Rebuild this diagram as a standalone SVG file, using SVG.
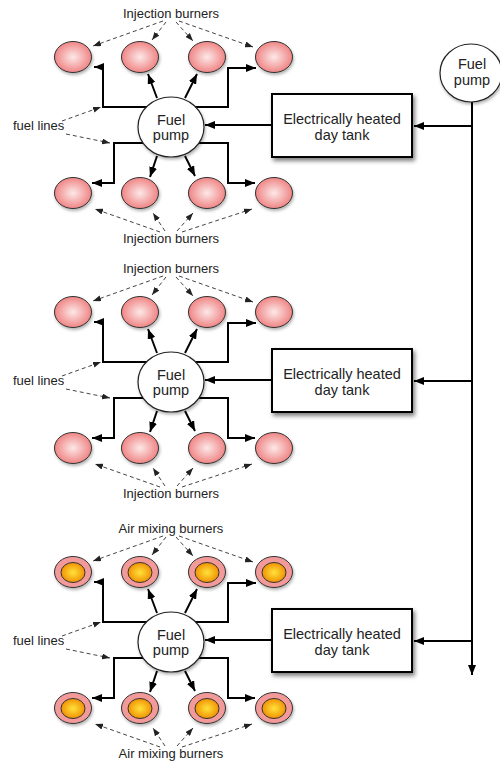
<svg xmlns="http://www.w3.org/2000/svg" width="500" height="762" viewBox="0 0 500 762">
<defs>
<style>
.lbl{font-family:"Liberation Sans",Arial,sans-serif;font-size:13px;fill:#222}
.big{font-family:"Liberation Sans",Arial,sans-serif;font-size:14.5px;fill:#222;text-anchor:middle}
.mid{text-anchor:middle}
.fl{fill:none;stroke:#000;stroke-width:2;marker-end:url(#ah)}
.dl{fill:none;stroke:#444;stroke-width:1;stroke-dasharray:4 3;marker-end:url(#dh)}
.burn{fill:url(#pink);stroke:#333;stroke-width:1;filter:url(#sh2)}
.air{fill:#f29a9a;stroke:#333;stroke-width:1;filter:url(#sh2)}
.core{fill:url(#orange);stroke:#333;stroke-width:1}
.pump{fill:#fff;stroke:#222;stroke-width:1.2;filter:url(#sh2)}
.tank{fill:#fff;stroke:#000;stroke-width:2;filter:url(#sh1)}
</style>
<radialGradient id="pink" cx="50%" cy="50%" r="55%">
<stop offset="0" stop-color="#fde8e8"/>
<stop offset="1" stop-color="#ee7b7b"/>
</radialGradient>
<radialGradient id="orange" cx="50%" cy="50%" r="55%">
<stop offset="0" stop-color="#ffe23a"/>
<stop offset="1" stop-color="#f08a00"/>
</radialGradient>
<filter id="sh1" x="-20%" y="-20%" width="140%" height="150%">
<feDropShadow dx="2" dy="3" stdDeviation="2" flood-color="#000" flood-opacity="0.5"/>
</filter>
<filter id="sh2" x="-20%" y="-20%" width="140%" height="150%">
<feDropShadow dx="1" dy="2" stdDeviation="1.5" flood-color="#000" flood-opacity="0.3"/>
</filter>
<marker id="ah" viewBox="0 0 10 8" refX="10" refY="4" markerWidth="10" markerHeight="8" markerUnits="userSpaceOnUse" orient="auto">
<path d="M0,0 L10,4 L0,8 z" fill="#000"/>
</marker>
<marker id="dh" viewBox="0 0 8 6" refX="8" refY="3" markerWidth="8" markerHeight="6" markerUnits="userSpaceOnUse" orient="auto">
<path d="M0,0 L8,3 L0,6 z" fill="#222"/>
</marker>
</defs>
<rect width="500" height="762" fill="#fff"/>

<g id="connectors">
<path class="fl" d="M472,102 V675"/>
<g id="conn-s1">
<path class="fl" d="M148,107 H103 V67 H94"/>
<path class="fl" d="M194,107 H228 V68 H256"/>
<path class="fl" d="M157,98 L148,74"/>
<path class="fl" d="M185,98 L197,74"/>
<path class="fl" d="M148,143 H114 V183 H92"/>
<path class="fl" d="M194,143 H228 V183 H255"/>
<path class="fl" d="M157,156 L150,177"/>
<path class="fl" d="M185,156 L195,176"/>
<path class="fl" d="M272,125 H205"/>
<path class="fl" d="M472,126 H414"/>
<path class="dl" d="M163,21 L93,46"/>
<path class="dl" d="M166,22 L152,40"/>
<path class="dl" d="M176,22 L193,41"/>
<path class="dl" d="M179,21 L253,47"/>
<path class="dl" d="M160,232 L95,209"/>
<path class="dl" d="M165,231 L153,213"/>
<path class="dl" d="M177,231 L193,213"/>
<path class="dl" d="M182,232 L252,209"/>
<path class="dl" d="M62,121 L101,107"/>
<path class="dl" d="M66,134 L110,143"/>
</g>
<g id="conn-s2" transform="translate(0,255)">
<path class="fl" d="M148,107 H103 V67 H94"/>
<path class="fl" d="M194,107 H228 V68 H256"/>
<path class="fl" d="M157,98 L148,74"/>
<path class="fl" d="M185,98 L197,74"/>
<path class="fl" d="M148,143 H114 V183 H92"/>
<path class="fl" d="M194,143 H228 V183 H255"/>
<path class="fl" d="M157,156 L150,177"/>
<path class="fl" d="M185,156 L195,176"/>
<path class="fl" d="M272,125 H205"/>
<path class="fl" d="M472,126 H414"/>
<path class="dl" d="M163,21 L93,46"/>
<path class="dl" d="M166,22 L152,40"/>
<path class="dl" d="M176,22 L193,41"/>
<path class="dl" d="M179,21 L253,47"/>
<path class="dl" d="M160,232 L95,209"/>
<path class="dl" d="M165,231 L153,213"/>
<path class="dl" d="M177,231 L193,213"/>
<path class="dl" d="M182,232 L252,209"/>
<path class="dl" d="M62,121 L101,107"/>
<path class="dl" d="M66,134 L110,143"/>
</g>
<g id="conn-s3" transform="translate(0,515)">
<path class="fl" d="M148,107 H103 V67 H94"/>
<path class="fl" d="M194,107 H228 V68 H256"/>
<path class="fl" d="M157,98 L148,74"/>
<path class="fl" d="M185,98 L197,74"/>
<path class="fl" d="M148,143 H114 V183 H92"/>
<path class="fl" d="M194,143 H228 V183 H255"/>
<path class="fl" d="M157,156 L150,177"/>
<path class="fl" d="M185,156 L195,176"/>
<path class="fl" d="M272,125 H205"/>
<path class="fl" d="M472,126 H414"/>
<path class="dl" d="M163,21 L93,46"/>
<path class="dl" d="M166,22 L152,40"/>
<path class="dl" d="M176,22 L193,41"/>
<path class="dl" d="M179,21 L253,47"/>
<path class="dl" d="M160,232 L95,209"/>
<path class="dl" d="M165,231 L153,213"/>
<path class="dl" d="M177,231 L193,213"/>
<path class="dl" d="M182,232 L252,209"/>
<path class="dl" d="M62,121 L101,107"/>
<path class="dl" d="M66,134 L110,143"/>
</g>
</g>

<g id="main-pump">
<ellipse class="pump" cx="471" cy="73" rx="31" ry="29"/>
<text class="big" x="472" y="69">Fuel</text>
<text class="big" x="472" y="85">pump</text>
</g>

<g id="section1">
<g id="s1-b1"><ellipse class="burn" cx="73" cy="57" rx="18.5" ry="15.5"/></g>
<g id="s1-b2"><ellipse class="burn" cx="140" cy="57" rx="18.5" ry="15.5"/></g>
<g id="s1-b3"><ellipse class="burn" cx="207" cy="57" rx="18.5" ry="15.5"/></g>
<g id="s1-b4"><ellipse class="burn" cx="274" cy="57" rx="18.5" ry="15.5"/></g>
<g id="s1-b5"><ellipse class="burn" cx="73" cy="193" rx="18.5" ry="15.5"/></g>
<g id="s1-b6"><ellipse class="burn" cx="140" cy="193" rx="18.5" ry="15.5"/></g>
<g id="s1-b7"><ellipse class="burn" cx="207" cy="193" rx="18.5" ry="15.5"/></g>
<g id="s1-b8"><ellipse class="burn" cx="274" cy="193" rx="18.5" ry="15.5"/></g>
<g id="s1-pump"><ellipse class="pump" cx="171" cy="127" rx="33" ry="30"/>
<text class="big" x="171" y="124.5">Fuel</text><text class="big" x="171" y="139.5">pump</text></g>
<g id="s1-tank"><rect class="tank" x="272" y="94" width="140" height="63"/>
<text class="big" x="342" y="124">Electrically heated</text><text class="big" x="342" y="140">day tank</text></g>
<g id="s1-labels">
<text class="lbl mid" x="171" y="18">Injection burners</text>
<text class="lbl mid" x="171" y="243">Injection burners</text>
<text class="lbl" x="13" y="130">fuel lines</text>
</g>
</g>

<g id="section2" transform="translate(0,255)">
<g id="s2-b1"><ellipse class="burn" cx="73" cy="57" rx="18.5" ry="15.5"/></g>
<g id="s2-b2"><ellipse class="burn" cx="140" cy="57" rx="18.5" ry="15.5"/></g>
<g id="s2-b3"><ellipse class="burn" cx="207" cy="57" rx="18.5" ry="15.5"/></g>
<g id="s2-b4"><ellipse class="burn" cx="274" cy="57" rx="18.5" ry="15.5"/></g>
<g id="s2-b5"><ellipse class="burn" cx="73" cy="193" rx="18.5" ry="15.5"/></g>
<g id="s2-b6"><ellipse class="burn" cx="140" cy="193" rx="18.5" ry="15.5"/></g>
<g id="s2-b7"><ellipse class="burn" cx="207" cy="193" rx="18.5" ry="15.5"/></g>
<g id="s2-b8"><ellipse class="burn" cx="274" cy="193" rx="18.5" ry="15.5"/></g>
<g id="s2-pump"><ellipse class="pump" cx="171" cy="127" rx="33" ry="30"/>
<text class="big" x="171" y="124.5">Fuel</text><text class="big" x="171" y="139.5">pump</text></g>
<g id="s2-tank"><rect class="tank" x="272" y="94" width="140" height="63"/>
<text class="big" x="342" y="124">Electrically heated</text><text class="big" x="342" y="140">day tank</text></g>
<g id="s2-labels">
<text class="lbl mid" x="171" y="18">Injection burners</text>
<text class="lbl mid" x="171" y="243">Injection burners</text>
<text class="lbl" x="13" y="130">fuel lines</text>
</g>
</g>

<g id="section3" transform="translate(0,515)">
<g id="s3-b1"><ellipse class="air" cx="73" cy="57" rx="18.5" ry="15.5"/><ellipse class="core" cx="73" cy="57.5" rx="12" ry="10"/></g>
<g id="s3-b2"><ellipse class="air" cx="140" cy="57" rx="18.5" ry="15.5"/><ellipse class="core" cx="140" cy="57.5" rx="12" ry="10"/></g>
<g id="s3-b3"><ellipse class="air" cx="207" cy="57" rx="18.5" ry="15.5"/><ellipse class="core" cx="207" cy="57.5" rx="12" ry="10"/></g>
<g id="s3-b4"><ellipse class="air" cx="274" cy="57" rx="18.5" ry="15.5"/><ellipse class="core" cx="274" cy="57.5" rx="12" ry="10"/></g>
<g id="s3-b5"><ellipse class="air" cx="73" cy="193" rx="18.5" ry="15.5"/><ellipse class="core" cx="73" cy="193.5" rx="12" ry="10"/></g>
<g id="s3-b6"><ellipse class="air" cx="140" cy="193" rx="18.5" ry="15.5"/><ellipse class="core" cx="140" cy="193.5" rx="12" ry="10"/></g>
<g id="s3-b7"><ellipse class="air" cx="207" cy="193" rx="18.5" ry="15.5"/><ellipse class="core" cx="207" cy="193.5" rx="12" ry="10"/></g>
<g id="s3-b8"><ellipse class="air" cx="274" cy="193" rx="18.5" ry="15.5"/><ellipse class="core" cx="274" cy="193.5" rx="12" ry="10"/></g>
<g id="s3-pump"><ellipse class="pump" cx="171" cy="127" rx="33" ry="30"/>
<text class="big" x="171" y="124.5">Fuel</text><text class="big" x="171" y="139.5">pump</text></g>
<g id="s3-tank"><rect class="tank" x="272" y="94" width="140" height="63"/>
<text class="big" x="342" y="124">Electrically heated</text><text class="big" x="342" y="140">day tank</text></g>
<g id="s3-labels">
<text class="lbl mid" x="171" y="18">Air mixing burners</text>
<text class="lbl mid" x="171" y="243">Air mixing burners</text>
<text class="lbl" x="13" y="130">fuel lines</text>
</g>
</g>
</svg>
